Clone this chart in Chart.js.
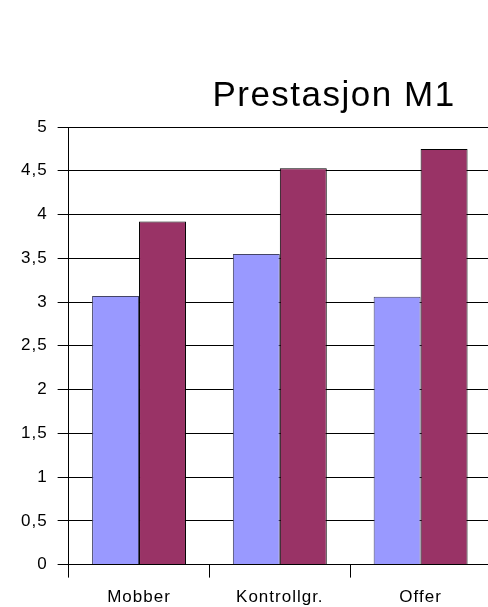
<!DOCTYPE html>
<html>
<head>
<meta charset="utf-8">
<script src="https://cdn.jsdelivr.net/npm/chart.js@4"></script>
<style>
  html, body { margin: 0; padding: 0; background: #fff; overflow: hidden; }
  #wrap { width: 495px; height: 607px; }
</style>
</head>
<body>
<div id="wrap"><canvas id="chart" width="495" height="607"></canvas></div>
<script>
const categories = ['Mobber', 'Kontrollgr.', 'Offer'];
const seriesA = [3.07, 3.55, 3.06];
const seriesB = [3.92, 4.53, 4.75];
const chartTitle = 'Prestasjon M1';

const spacing = {
  id: 'spacing',
  beforeUpdate(chart) { chart.ctx.letterSpacing = '1px'; },
  beforeDraw(chart) { chart.ctx.letterSpacing = '1px'; }
};

const titlePlugin = {
  id: 'titleText',
  afterDraw(chart) {
    const ctx = chart.ctx;
    ctx.save();
    ctx.letterSpacing = '1.5px';
    ctx.font = '35px "Liberation Sans", Arial, sans-serif';
    ctx.fillStyle = '#000';
    ctx.textAlign = 'center';
    ctx.textBaseline = 'alphabetic';
    ctx.fillText(chartTitle, 334, 106);
    ctx.restore();
  }
};

new Chart(document.getElementById('chart').getContext('2d'), {
  type: 'bar',
  data: {
    labels: categories,
    datasets: [
      {
        data: seriesA,
        backgroundColor: '#9999ff',
        borderColor: '#444466',
        borderWidth: 1,
        barPercentage: 1,
        categoryPercentage: 0.667
      },
      {
        data: seriesB,
        backgroundColor: '#993366',
        borderColor: '#000',
        borderWidth: 1,
        barPercentage: 1,
        categoryPercentage: 0.667
      }
    ]
  },
  options: {
    responsive: false,
    animation: false,
    devicePixelRatio: 1,
    layout: { padding: { top: 127, right: 4, bottom: -11, left: 11 } },
    plugins: { legend: { display: false }, title: { display: false }, tooltip: { enabled: false } },
    scales: {
      x: {
        grid: { offset: true, drawOnChartArea: false, drawTicks: true, tickLength: 13, color: '#000' },
        border: { color: '#000' },
        ticks: { color: '#000', padding: 10, font: { family: '"Liberation Sans", Arial, sans-serif', size: 17 } }
      },
      y: {
        min: 0,
        max: 5,
        grid: { color: '#000', tickLength: 11 },
        border: { color: '#000' },
        ticks: {
          stepSize: 0.5,
          color: '#000',
          padding: 10,
          font: { family: '"Liberation Sans", Arial, sans-serif', size: 17 },
          callback: v => String(v).replace('.', ',')
        }
      }
    }
  },
  plugins: [spacing, titlePlugin]
});
</script>
</body>
</html>
